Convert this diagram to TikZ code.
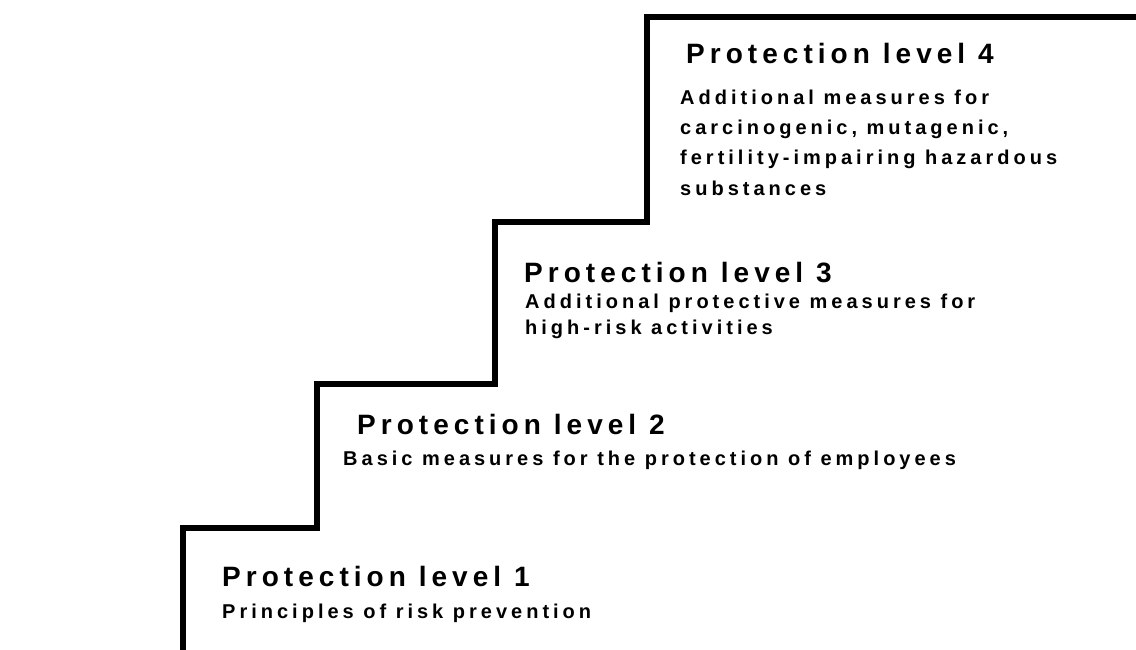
\documentclass[tikz,border=0pt]{standalone}
\usepackage{fontspec}
\setmainfont{Liberation Sans}
\newfontfamily\titlefont[LetterSpace=18]{Liberation Sans Bold}
\newfontfamily\subfont[LetterSpace=20]{Liberation Sans Bold}
\begin{document}
\begin{tikzpicture}[x=1pt,y=-1pt,
  stair/.style={line width=6pt, line join=miter, line cap=rect},
  ttl/.style={anchor=base west, inner sep=0pt, font=\titlefont\fontsize{28}{32}\selectfont},
  sub/.style={anchor=base west, inner sep=0pt, font=\subfont\fontsize{20}{26}\selectfont}]
\useasboundingbox (0,0) rectangle (1136,649);
\coordinate (s0) at (183,652);
\coordinate (s1) at (183,528);
\coordinate (s2) at (317,528);
\coordinate (s3) at (317,384);
\coordinate (s4) at (495,384);
\coordinate (s5) at (495,222);
\coordinate (s6) at (647,222);
\coordinate (s7) at (647,17);
\coordinate (s8) at (1140,17);
\draw[stair] (s0) -- (s1) -- (s2) -- (s3) -- (s4) -- (s5) -- (s6) -- (s7) -- (s8);
\node[ttl] (t1) at (222,586) {Protection level 1};
\node[sub] (d1) at (222,618) {Principles of risk prevention};
\node[ttl] (t2) at (357,434) {Protection level 2};
\node[sub] (d2) at (343,465) {Basic measures for the protection of employees};
\node[ttl] (t3) at (524,282) {Protection level 3};
\node[sub] (d3a) at (525,308) {Additional protective measures for};
\node[sub] (d3b) at (525,334) {high-risk activities};
\node[ttl] (t4) at (686,63) {Protection level 4};
\node[sub] (d4a) at (680,104) {Additional measures for};
\node[sub] (d4b) at (680,134) {carcinogenic, mutagenic,};
\node[sub] (d4c) at (680,164) {fertility-impairing hazardous};
\node[sub] (d4d) at (680,195) {substances};
\end{tikzpicture}
\end{document}
